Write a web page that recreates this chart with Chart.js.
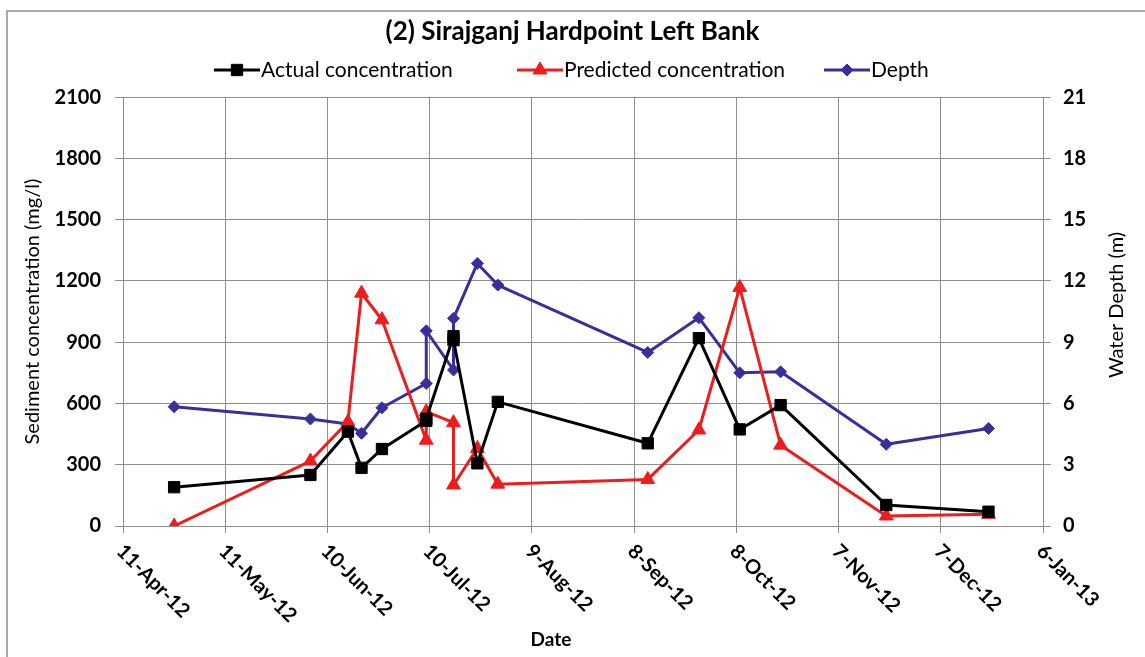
<!DOCTYPE html>
<html>
<head>
<meta charset="utf-8">
<script src="https://cdn.jsdelivr.net/npm/chart.js@4.4.1/dist/chart.umd.min.js"></script>
<style>
  html, body { margin: 0; padding: 0; background: #fff; overflow: hidden; }
  #wrap { position: relative; width: 1145px; height: 657px; }
  #c { position: absolute; left: 0; top: 0; }
  #frame { position: absolute; left: 6px; top: 10px; width: 1200px; height: 700px;
           border-left: 2px solid #a9a9a9; border-top: 2px solid #a9a9a9; pointer-events: none; }
</style>
</head>
<body>
<div id="wrap">
  <canvas id="c" width="1145" height="657"></canvas>
  <div id="frame"></div>
</div>
<script>
// Sampling dates (ISO) and the three measured / modelled series
const sampleDates = ['2012-04-26', '2012-06-05', '2012-06-16', '2012-06-20', '2012-06-26',
                     '2012-07-09', '2012-07-09', '2012-07-17', '2012-07-17', '2012-07-24',
                     '2012-07-30', '2012-09-12', '2012-09-27', '2012-10-09', '2012-10-21',
                     '2012-11-21', '2012-12-21'];
const actualConc    = [190, 250, 462, 285, 377, 515, 525, 930, 910, 307, 608, 405, 920, 473, 592, 103, 70];
const predictedConc = [0, 318, 510, 1140, 1010, 420, 560, 506, 201, 380, 205, 228, 470, 1168, 396, 49, 57];
const waterDepth    = [5.84, 5.24, 5.0, 4.54, 5.79, 6.98, 9.56, 7.64, 10.17, 12.86, 11.8, 8.5, 10.2, 7.5, 7.55, 4.0, 4.78];

// Axis ranges
const dateAxisStart = '2012-04-11';
const dateAxisEnd   = '2013-01-06';
const dateTickDays  = 30;
const concAxis  = [0, 2100, 300];
const depthAxis = [0, 21, 3];

const seriesNames = ['Actual concentration', 'Predicted concentration', 'Depth'];
const chartTitle = '(2) Sirajganj Hardpoint Left Bank';

const MONTHS = ['Jan', 'Feb', 'Mar', 'Apr', 'May', 'Jun', 'Jul', 'Aug', 'Sep', 'Oct', 'Nov', 'Dec'];
const DAY_MS = 86400000;
function toUTC(iso) { const [y, m, d] = iso.split('-').map(Number); return Date.UTC(y, m - 1, d); }
const origin = toUTC(dateAxisStart);
function dayOf(iso) { return Math.round((toUTC(iso) - origin) / DAY_MS); }
function fmtDay(v) {
  const d = new Date(origin + v * DAY_MS);
  return d.getUTCDate() + '-' + MONTHS[d.getUTCMonth()] + '-' + String(d.getUTCFullYear()).slice(2);
}
const sampleDays = sampleDates.map(dayOf);
const pts = arr => sampleDays.map((x, i) => ({ x, y: arr[i] }));

const FONT = 'Lato, "Open Sans", sans-serif';
const GRID = '#8e8e8e';
const RED = '#ee1c1c';
const BLUE = '#37309c';

// Draws the rotated date labels, the side/bottom axis captions and the legend row
const decor = {
  id: 'decor',
  afterDraw(chart) {
    const { ctx } = chart;
    const x = chart.scales.x;
    ctx.save();
    ctx.fillStyle = '#000';

    ctx.font = 'bold 20px ' + FONT;
    ctx.textAlign = 'left';
    ctx.textBaseline = 'middle';
    x.ticks.forEach(t => {
      const px = x.getPixelForValue(t.value);
      ctx.save();
      ctx.translate(px - 3, x.top + 22);
      ctx.rotate(Math.PI / 4);
      ctx.fillText(fmtDay(t.value), 0, 0);
      ctx.restore();
    });

    ctx.textAlign = 'center';
    ctx.font = 'bold 19px ' + FONT;
    ctx.fillText('Date', 551, 640);

    ctx.font = '20px ' + FONT;
    ctx.save();
    ctx.translate(1117, 305);
    ctx.rotate(-Math.PI / 2);
    ctx.fillText('Water Depth (m)', 0, 0);
    ctx.restore();

    // legend row: line + marker centred on each entry's symbol position, label right after
    const symCentres = [237, 540, 847], ly = 70, half = 23;
    ctx.font = '21px ' + FONT;
    ctx.textAlign = 'left';
    chart.data.datasets.forEach((ds, i) => {
      const cx = symCentres[i];
      ctx.strokeStyle = ds.borderColor;
      ctx.lineWidth = 3;
      ctx.beginPath();
      ctx.moveTo(cx - half, ly);
      ctx.lineTo(cx + half, ly);
      ctx.stroke();
      ctx.fillStyle = ds.backgroundColor;
      ctx.lineWidth = 1;
      Chart.helpers.drawPoint(ctx, { pointStyle: ds.pointStyle, radius: ds.pointRadius, rotation: 0, borderWidth: 1 },
                              cx, ly);
      ctx.fillStyle = '#000';
      ctx.fillText(ds.label, cx + half + 1, ly);
    });
    ctx.restore();
  }
};

const base = { borderWidth: 3, borderJoinStyle: 'round', pointBorderWidth: 1, tension: 0 };
const plain = v => String(v);

new Chart(document.getElementById('c'), {
  type: 'line',
  data: {
    datasets: [
      { ...base, label: seriesNames[0], data: pts(actualConc), yAxisID: 'y',
        borderColor: '#000', backgroundColor: '#000', pointStyle: 'rect', pointRadius: 8 },
      { ...base, label: seriesNames[1], data: pts(predictedConc), yAxisID: 'y',
        borderColor: RED, backgroundColor: RED, pointStyle: 'triangle', pointRadius: 8 },
      { ...base, label: seriesNames[2], data: pts(waterDepth), yAxisID: 'y2',
        borderColor: BLUE, backgroundColor: BLUE, pointStyle: 'rectRot', pointRadius: 6 }
    ]
  },
  options: {
    responsive: false,
    animation: false,
    layout: { padding: 0 },
    plugins: {
      legend: { display: false },
      tooltip: { enabled: false },
      title: { display: true, text: chartTitle, color: '#000',
               font: { family: FONT, size: 26, weight: 'bold' }, padding: { top: 16, bottom: 50 } }
    },
    scales: {
      x: {
        type: 'linear', min: 0, max: dayOf(dateAxisEnd),
        ticks: { stepSize: dateTickDays, display: false },
        grid: { color: GRID, lineWidth: 1, tickLength: 7 },
        border: { color: GRID },
        afterFit(s) { s.height = 131; }
      },
      y: {
        position: 'left', min: concAxis[0], max: concAxis[1],
        ticks: { stepSize: concAxis[2], color: '#000', padding: 14, callback: plain,
                 font: { family: FONT, size: 20, weight: 'bold' } },
        grid: { color: GRID, lineWidth: 1, tickLength: 8 },
        border: { color: GRID },
        title: { display: true, text: 'Sediment concentration (mg/l)', color: '#000',
                 font: { family: FONT, size: 20 }, padding: { top: 21, bottom: 0 } },
        afterFit(s) { s.width = 123; }
      },
      y2: {
        position: 'right', min: depthAxis[0], max: depthAxis[1],
        ticks: { stepSize: depthAxis[2], color: '#000', padding: 12, callback: plain,
                 font: { family: FONT, size: 20, weight: 'bold' } },
        grid: { drawOnChartArea: false, color: GRID, tickLength: 8 },
        border: { color: GRID },
        afterFit(s) { s.width = 102; }
      }
    }
  },
  plugins: [decor]
});
</script>
</body>
</html>
